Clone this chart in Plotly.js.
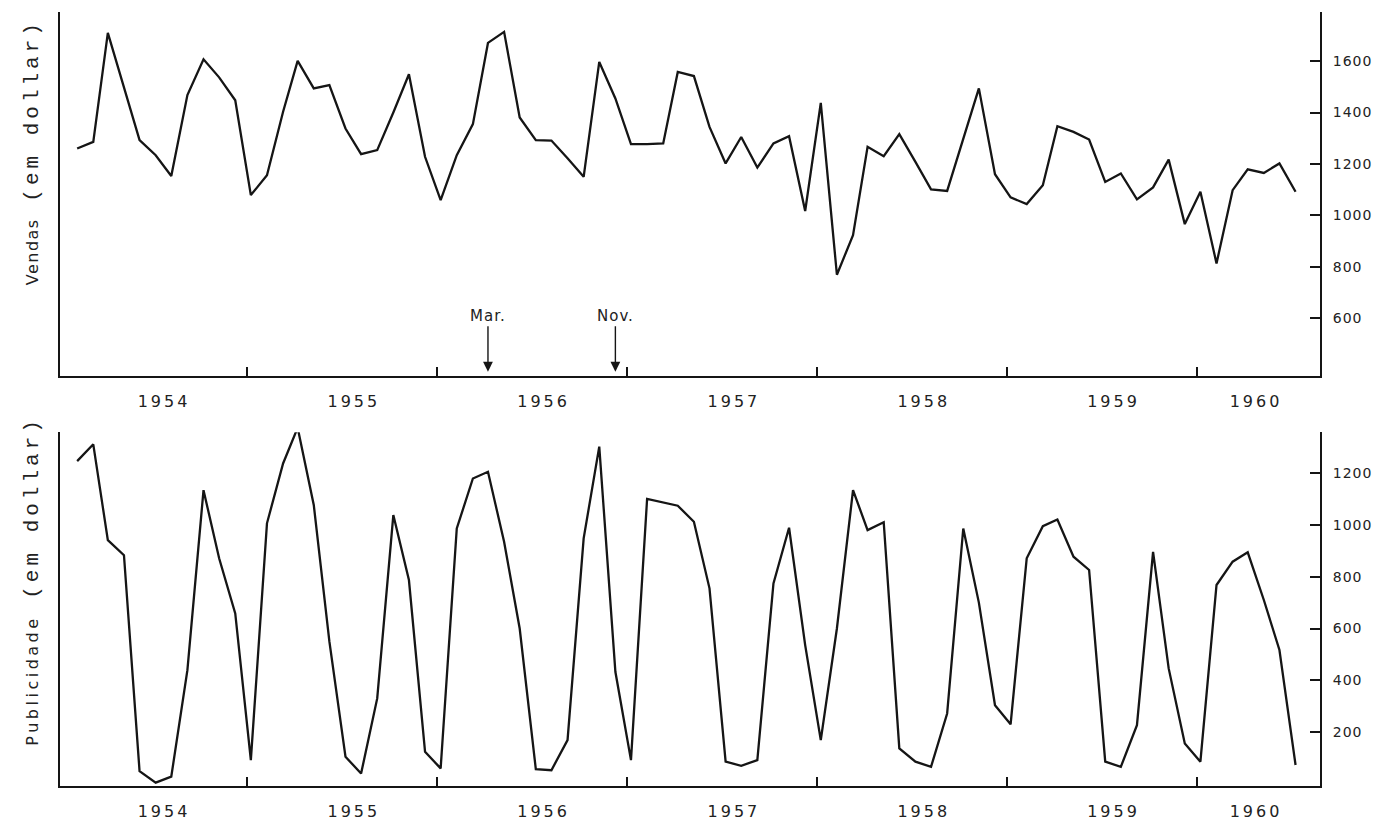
<!DOCTYPE html>
<html><head><meta charset="utf-8">
<script src="https://cdn.plot.ly/plotly-3.0.1.min.js"></script>
<style>html,body{margin:0;padding:0;background:#fff}#chart{width:1383px;height:828px}</style>
</head><body><div id="chart"></div>
<script>
const startYear = 1954;
const yearLabels = ["1954","1955","1956","1957","1958","1959","1960"];
const vendas = [
  1260,1286,1710,1494,1293,1234,1153,1468,1607,1537,1448,1079,
  1156,1403,1601,1494,1507,1338,1238,1254,1400,1549,1228,1059,
  1234,1355,1671,1714,1381,1293,1291,1222,1150,1597,1455,1277,
  1277,1280,1558,1542,1344,1202,1305,1186,1280,1308,1017,1438,
  769,923,1267,1230,1316,1208,1101,1095,1296,1494,1160,1070,
  1044,1117,1347,1325,1295,1130,1163,1062,1109,1217,966,1092,
  813,1098,1179,1165,1202,1092
];
const publicidade = [
  1246,1311,941,883,49,5,28,439,1134,871,658,92,
  1006,1237,1375,1077,550,105,40,330,1038,787,124,60,
  986,1179,1205,935,600,57,53,169,948,1302,433,92,
  1100,1086,1074,1012,755,86,70,92,774,989,536,169,
  600,1134,980,1010,137,86,66,272,986,700,304,230,
  871,995,1021,877,826,86,66,227,896,446,156,86,
  768,858,894,710,517,73
];
const vendasTicks = [600,800,1000,1200,1400,1600];
const publicidadeTicks = [200,400,600,800,1000,1200];
const markerTexts = ["Mar.","Nov."];
const markerDates = ["1956-03-01","1956-11-01"];
const vendasTitle = '<span style="letter-spacing:1.5px">Vendas</span><span style="font-family:Liberation Mono;font-size:21px;letter-spacing:4px">&nbsp;(em dollar)</span>';
const publicidadeTitle = '<span style="letter-spacing:3.5px">Publicidade</span><span style="font-family:Liberation Mono;font-size:21px;letter-spacing:4px">&nbsp;(em dollar)</span>';

const months = vendas.map((_, i) => {
  const y = startYear + Math.floor(i / 12);
  const m = (i % 12) + 1;
  return y + '-' + String(m).padStart(2, '0') + '-01';
});

// label position: middle of the months present in each year
const labelPos = yearLabels.map(yl => {
  const ts = months.filter(d => d.startsWith(yl)).map(d => new Date(d + 'T00:00:00Z').getTime());
  const mid = (Math.min(...ts) + Math.max(...ts)) / 2;
  return new Date(mid).toISOString().slice(0, 10);
});
// year separators
const boundaries = yearLabels.slice(0, -1).map(yl => yl + '-11-24');
const spaced = (s, px) => '<span style="letter-spacing:' + px + 'px">' + s + '</span>';

const xRange = ['1953-11-29', '1960-07-18'];
const ink = '#151515';

const traces = [
  {x: months, y: vendas, type: 'scatter', mode: 'lines', xaxis: 'x', yaxis: 'y',
   line: {color: ink, width: 2.3}, showlegend: false, hoverinfo: 'x+y'},
  {x: months, y: publicidade, type: 'scatter', mode: 'lines', xaxis: 'x2', yaxis: 'y2',
   line: {color: ink, width: 2.3}, showlegend: false, hoverinfo: 'x+y'}
];

function xAxis(anchor) {
  return {
    anchor: anchor, type: 'date', range: xRange,
    tickmode: 'array', tickvals: labelPos, ticktext: yearLabels.map(y => spaced(y, 3)), ticks: '',
    tickfont: {family: 'DejaVu Sans', size: 16, color: '#222'},
    ticklabelstandoff: 10,
    showline: true, linewidth: 2, linecolor: ink,
    showgrid: false, zeroline: false,
    minor: {tickmode: 'array', tickvals: boundaries, ticks: 'inside', ticklen: 9,
            tickwidth: 2, tickcolor: ink, showgrid: false}
  };
}
function yAxis(anchor, domain, range, tickvals) {
  return {
    anchor: anchor, domain: domain, range: range, side: 'right',
    tickmode: 'array', tickvals: tickvals, ticktext: tickvals.map(v => spaced(String(v), 1)),
    ticks: 'inside', ticklen: 10,
    tickwidth: 2, tickcolor: ink,
    tickfont: {family: 'DejaVu Sans', size: 14, color: '#222'},
    ticklabelstandoff: 8,
    showline: true, mirror: true, linewidth: 2, linecolor: ink,
    showgrid: false, zeroline: false
  };
}

const annotations = [
  {xref: 'paper', yref: 'paper', x: -0.022, y: 0.817, xanchor: 'center', yanchor: 'middle',
   textangle: -90, text: vendasTitle, showarrow: false,
   font: {family: 'DejaVu Sans', size: 16, color: '#222'}},
  {xref: 'paper', yref: 'paper', x: -0.022, y: 0.265, xanchor: 'center', yanchor: 'middle',
   textangle: -90, text: publicidadeTitle, showarrow: false,
   font: {family: 'DejaVu Sans', size: 16, color: '#222'}}
].concat(markerTexts.map((t, i) => ({
  xref: 'x', yref: 'y', x: markerDates[i], y: 392, text: spaced(t, 1),
  showarrow: true, ax: 0, ay: -56, arrowhead: 2, arrowsize: 1.4, arrowwidth: 1.4,
  arrowcolor: ink, font: {family: 'DejaVu Sans', size: 15, color: '#222'}
})));

const layout = {
  width: 1383, height: 828,
  margin: {l: 60, r: 63, t: 10, b: 42},
  paper_bgcolor: '#fff', plot_bgcolor: '#fff',
  showlegend: false,
  xaxis: xAxis('y'),
  yaxis: yAxis('x', [0.528, 0.997], [374, 1790], vendasTicks),
  xaxis2: xAxis('y2'),
  yaxis2: yAxis('x2', [0, 0.456], [-8, 1358], publicidadeTicks),
  annotations: annotations
};

Plotly.newPlot('chart', traces, layout, {displayModeBar: false, staticPlot: true});
</script>
</body></html>
